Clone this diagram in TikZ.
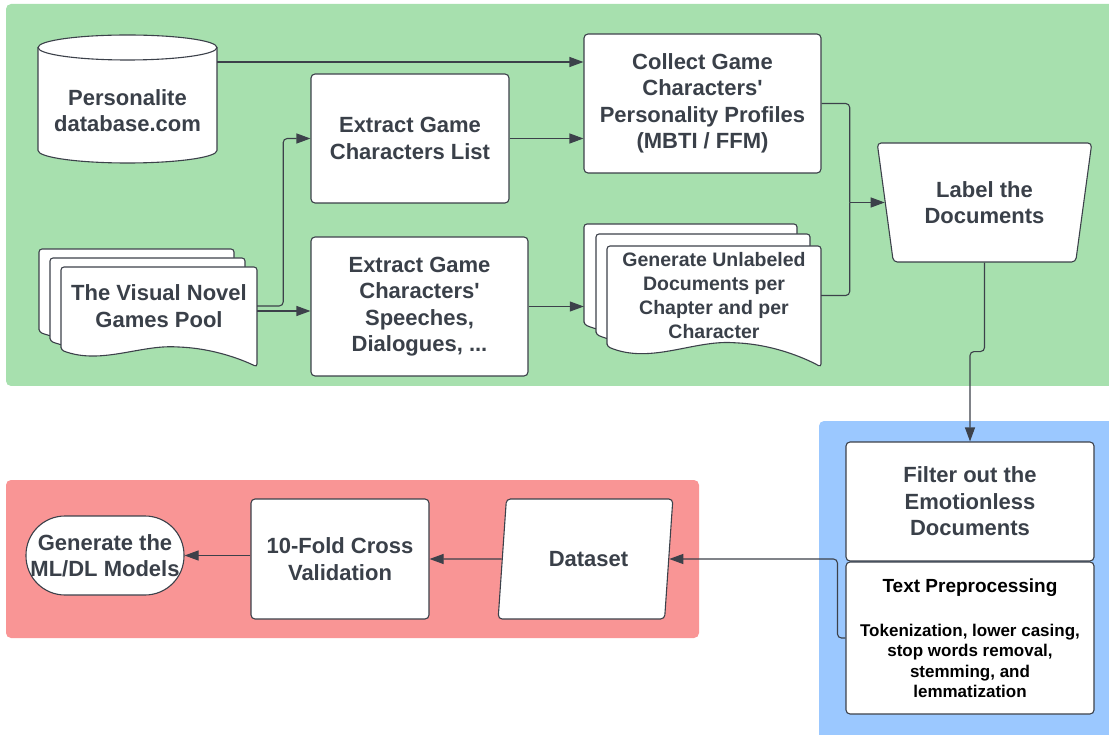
\documentclass[tikz,border=0pt]{standalone}
\usepackage{fontspec}
\setmainfont{Liberation Sans}
\usetikzlibrary{shapes.geometric, arrows.meta, calc}
\definecolor{panel-green}{RGB}{167,224,174}
\definecolor{panel-blue}{RGB}{155,200,255}
\definecolor{panel-red}{RGB}{249,149,149}
\definecolor{line-dark}{RGB}{60,65,74}
\definecolor{text-dark}{RGB}{58,64,73}

\newcommand{\boxfont}{\bfseries\fontsize{22}{26.5}\selectfont}
% one sheet of a document stack: x1, y1 (top), x2, y2 (lowest point on the right)
\newcommand{\docpage}[4]{%
  \draw[page] (#1,{#4-0.17*(#4-#2)}) -- (#1,#2) -- (#3,#2) -- (#3,#4)
    .. controls ({#3-0.05*(#3-#1)},{#4-0.05*(#4-#2)}) and ({#1+0.8*(#3-#1)},{#4-0.18*(#4-#2)}) .. ({#1+0.6*(#3-#1)},{#4-0.2*(#4-#2)})
    .. controls ({#1+0.4*(#3-#1)},{#4-0.22*(#4-#2)}) and ({#1+0.2*(#3-#1)},{#4-0.02*(#4-#2)}) .. (#1,{#4-0.17*(#4-#2)}) -- cycle;}

\begin{document}
\begin{tikzpicture}[x=1pt, y=-1pt,
  box/.style={draw=line-dark, line width=1.1pt, fill=white, rounded corners=4pt, align=center, text=text-dark, font=\boxfont, inner sep=2pt},
  doctext/.style={align=center, text=text-dark, font=\boxfont, inner sep=0pt},
  page/.style={draw=line-dark, line width=1.1pt, fill=white, rounded corners=3pt},
  line/.style={draw=line-dark, line width=1.1pt},
  arr/.style={line, -{Triangle[length=14pt, width=10pt]}},
]
  \useasboundingbox (0,0) rectangle (1109,735);

  % Panels
  \fill[panel-green, rounded corners=5pt] (6,4) rectangle (1120,386);
  \fill[panel-blue, rounded corners=5pt] (819,421) rectangle (1120,745);
  \fill[panel-red, rounded corners=5pt] (6,480) rectangle (699,638);

  % Database cylinder
  \fill[white] (38,47.5) rectangle (217,150.5);
  \draw[line, fill=white] (38,47.5) -- (38,150.5)
    .. controls (38,157.4) and (78.1,163) .. (127.5,163)
    .. controls (176.9,163) and (217,157.4) .. (217,150.5) -- (217,47.5);
  \draw[line, fill=white] (127.5,47.5) ellipse [x radius=89.5, y radius=12.5];
  \node[doctext, minimum width=179, minimum height=103] (db) at (127.5,110.5) {Personalite\\database.com};

  % Visual novel pool
  \docpage{39}{249}{234}{349}
  \docpage{50}{258}{245}{358}
  \docpage{61}{267}{257}{367}
  \node[doctext, minimum width=196] (pool) at (159,306) {The Visual Novel\\Games Pool};

  % Top row
  \node[box, minimum width=198, minimum height=129] (list) at (410,138.5) {Extract Game\\Characters List};
  \node[box, minimum width=237, minimum height=139] (collect) at (702.5,103.5) {Collect Game\\Characters\textquotesingle\\Personality Profiles\\(MBTI / FFM)};
  \node[box, minimum width=217, minimum height=139] (speech) at (419.5,306.5) {Extract Game\\Characters\textquotesingle\\Speeches,\\Dialogues, ...};

  % Unlabeled documents
  \docpage{584}{224}{797}{345}
  \docpage{596}{234}{810}{355}
  \docpage{607}{246}{821}{367}
  \node[doctext, minimum width=214, font=\bfseries\fontsize{19.5}{24.3}\selectfont] (gen) at (714,295.5) {Generate Unlabeled\\Documents per\\Chapter and per\\Character};
  \path (gen.west) ++(-23,0) coordinate (genback);

  \node[box, trapezium, trapezium left angle=103.2, trapezium right angle=103.2, trapezium stretches=true, minimum width=215, minimum height=119] (label) at (984.5,202.5) {Label the\\Documents};
  \path (label.left side) ++(-35,0) coordinate (merge);

  % Blue panel
  \node[box, minimum width=248, minimum height=119] (filter) at (970,501.5) {Filter out the\\Emotionless\\Documents};
  \node[box, minimum width=248, minimum height=152, text=black, font=\bfseries\fontsize{17}{20.3}\selectfont] (prep) at (970,638)
    {{\fontsize{19}{23}\selectfont Text Preprocessing}\\[24pt]Tokenization, lower casing,\\stop words removal,\\stemming, and\\lemmatization};

  % Red panel
  \node[box, trapezium, trapezium left angle=76.4, trapezium right angle=103.6, trapezium stretches=true, minimum width=175, minimum height=120] (data) at (585.5,559) {\hspace*{6pt}Dataset};
  \node[box, minimum width=178, minimum height=120] (tenfold) at (340,559) {10-Fold Cross\\Validation};
  \node[box, minimum width=158, minimum height=79, rounded corners=39pt] (ml) at (105,555.5) {Generate the\\ML/DL Models};

  % Connectors
  \draw[arr] ([yshift=48.5pt]db.east) -- ([yshift=48.5pt]db.east -| collect.west);
  \draw[arr] (list.east) -- (list.east -| collect.west);
  \draw[arr, rounded corners=4pt] (pool.east) -- ++(26,0) |- (list.west);
  \draw[arr] ([yshift=-5pt]pool.east) -- ([yshift=-5pt]pool.east -| speech.west);
  \draw[arr] (speech.east) -- (speech.east -| genback);
  \draw[line, rounded corners=4pt] (collect.east) -| (merge);
  \draw[line, rounded corners=4pt] (gen.east) -| (merge);
  \draw[arr] (merge) -- (label.left side);
  \draw[arr, rounded corners=4pt] (label.south) -- ++(0,89) -| (filter.north);
  \draw[arr, rounded corners=4pt] (prep.west) -- ++(-8,0) |- (data.east);
  \draw[arr] (data.west) -- (tenfold.east);
  \draw[arr] (tenfold.west |- ml.east) -- (ml.east);
\end{tikzpicture}
\end{document}
